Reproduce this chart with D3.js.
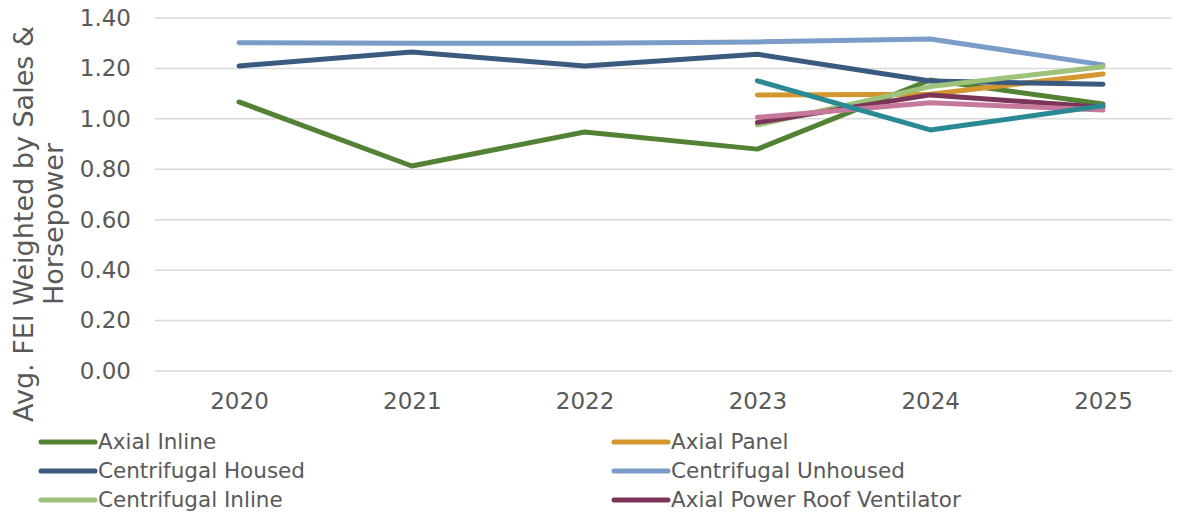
<!DOCTYPE html>
<html>
<head>
<meta charset="utf-8">
<script src="https://cdn.jsdelivr.net/npm/d3@7"></script>
<style>
  body { margin: 0; background: #fff; }
  svg { display: block; font-family: "DejaVu Sans", Verdana, sans-serif; }
</style>
</head>
<body>
<svg id="chart" width="1182" height="512"></svg>
<script>
const years = ["2020", "2021", "2022", "2023", "2024", "2025"]
const yTicks = [0, 0.2, 0.4, 0.6, 0.8, 1.0, 1.2, 1.4]

// null = no data for that year
const axialInline = [1.067, 0.813, 0.948, 0.880, 1.154, 1.059]
const axialPanel = [null, null, null, 1.095, 1.098, 1.178]
const centrifugalHoused = [1.210, 1.265, 1.210, 1.256, 1.150, 1.137]
const centrifugalUnhoused = [1.302, 1.300, 1.300, 1.305, 1.317, 1.214]
const centrifugalInline = [null, null, null, 0.976, 1.128, 1.207]
const axialPRV = [null, null, null, 0.986, 1.095, 1.046]
const seriesG = [null, null, null, 1.006, 1.064, 1.035]
const seriesH = [null, null, null, 1.151, 0.956, 1.052]

// only the first six legend entries are visible in the picture
const legendNames = [
	"Axial Inline", "Axial Panel",
	"Centrifugal Housed", "Centrifugal Unhoused",
	"Centrifugal Inline", "Axial Power Roof Ventilator"
]
const seriesValues = [axialInline, axialPanel, centrifugalHoused, centrifugalUnhoused,
	centrifugalInline, axialPRV, seriesG, seriesH]
const seriesColors = ["#548235", "#D4962E", "#3B5A80", "#7A9CC6",
	"#9DC37A", "#7B3558", "#C6789A", "#2A8A94"]

const setup = () => {
	const svg = d3.select("#chart")
	const textColor = "#595959"

	const x = d3.scalePoint()
	            .domain(years)
	            .range([239, 1103])
	const y = d3.scaleLinear()
	            .domain([0, 1.4])
	            .range([371, 18])

	// gridlines
	svg.append("g")
	   .selectAll("line")
	   .data(yTicks)
	   .join("line")
	   .attr("x1", 155)
	   .attr("x2", 1172)
	   .attr("y1", d => y(d))
	   .attr("y2", d => y(d))
	   .attr("stroke", "#D9D9D9")
	   .attr("stroke-width", 1.5)

	// y axis labels
	const yAxis = d3.axisLeft(y)
	                .tickValues(yTicks)
	                .tickFormat(d3.format(".2f"))
	                .tickSize(0)
	                .tickPadding(0)
	svg.append("g")
	   .attr("transform", "translate(131,0)")
	   .call(yAxis)
	   .call(g => g.select(".domain").remove())
	   .selectAll("text")
	   .attr("font-size", 23)
	   .attr("font-family", "DejaVu Sans, Verdana, sans-serif")
	   .attr("fill", textColor)

	// x axis labels
	const xAxis = d3.axisBottom(x).tickSize(0).tickPadding(0)
	svg.append("g")
	   .attr("transform", "translate(0,393)")
	   .call(xAxis)
	   .call(g => g.select(".domain").remove())
	   .selectAll("text")
	   .attr("font-size", 23)
	   .attr("font-family", "DejaVu Sans, Verdana, sans-serif")
	   .attr("fill", textColor)

	// y axis title
	const title = svg.append("text")
	   .attr("transform", "translate(38,224) rotate(-90)")
	   .attr("text-anchor", "middle")
	   .attr("font-size", 27)
	   .attr("fill", textColor)
	title.append("tspan").attr("x", 0).attr("dy", "-0.18em").text("Avg. FEI Weighted by Sales &")
	title.append("tspan").attr("x", 0).attr("dy", "1.1em").text("Horsepower")

	// lines
	const line = d3.line()
	               .defined(d => d[1] !== null)
	               .x(d => x(d[0]))
	               .y(d => y(d[1]))
	seriesValues.forEach((vals, i) => {
		svg.append("path")
		   .attr("d", line(years.map((yr, j) => [yr, vals[j]])))
		   .attr("fill", "none")
		   .attr("stroke", seriesColors[i])
		   .attr("stroke-width", 5)
		   .attr("stroke-linecap", "round")
		   .attr("stroke-linejoin", "round")
	})

	// legend, two columns
	const legend = svg.append("g")
	legendNames.forEach((name, i) => {
		const col = i % 2
		const row = Math.floor(i / 2)
		const lx = col === 0 ? 41 : 614
		const ly = 442 + row * 29
		legend.append("line")
		      .attr("x1", lx).attr("x2", lx + 54)
		      .attr("y1", ly).attr("y2", ly)
		      .attr("stroke", seriesColors[i])
		      .attr("stroke-width", 5)
		      .attr("stroke-linecap", "round")
		legend.append("text")
		      .attr("x", lx + 57)
		      .attr("y", ly)
		      .attr("dy", "0.33em")
		      .attr("font-size", 21.5)
		      .attr("fill", textColor)
		      .text(name)
	})
}

document.addEventListener("DOMContentLoaded", setup)
</script>
</body>
</html>
